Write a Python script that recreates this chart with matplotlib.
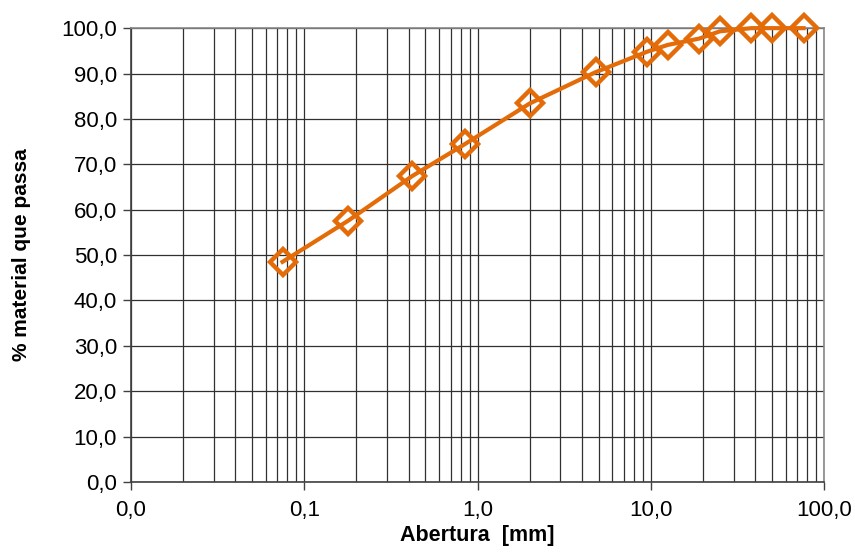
import numpy as np
import matplotlib.pyplot as plt
from matplotlib.ticker import FuncFormatter, LogLocator, MultipleLocator

plt.rcParams['font.family'] = ['Liberation Sans', 'DejaVu Sans']

# sieve openings [mm] and % passing
abertura = [0.075, 0.18, 0.42, 0.85, 2.0, 4.8, 9.5, 12.5, 19.0, 25.0, 38.0, 50.0, 76.0]
passante = [48.5, 57.6, 67.4, 74.5, 83.4, 90.3, 94.8, 96.3, 97.7, 99.3, 100.0, 100.0, 100.0]

x_limits = [0.01, 100]
y_limits = [0, 100]

fig = plt.figure(figsize=(8.55, 5.52), dpi=100)
ax = fig.add_axes([0.153, 0.127, 0.811, 0.822])

ax.plot(abertura, passante, color='#E36C09', lw=3.0, marker='D', ms=13,
        mfc='none', mec='#E36C09', mew=3.2, zorder=5, clip_on=False)

ax.set_xscale('log')
ax.set_xlim(x_limits)
ax.set_ylim(y_limits)

ax.xaxis.set_major_locator(LogLocator(base=10, numticks=10))
ax.xaxis.set_minor_locator(LogLocator(base=10, subs=np.arange(2, 10), numticks=20))
ax.yaxis.set_major_locator(MultipleLocator(10))

fmt = FuncFormatter(lambda v, pos: f"{v:.1f}".replace('.', ','))
ax.xaxis.set_major_formatter(fmt)
ax.yaxis.set_major_formatter(fmt)
ax.xaxis.set_minor_formatter(FuncFormatter(lambda v, pos: ''))

ax.grid(True, which='major', axis='both', color='#303030', lw=0.9)
ax.grid(True, which='minor', axis='x', color='#303030', lw=0.9)
ax.set_axisbelow(True)

ax.tick_params(axis='both', which='major', direction='out', length=6, width=1,
               color='#404040', labelsize=16, pad=4)
ax.tick_params(axis='x', which='minor', length=0)
ax.tick_params(axis='x', which='major', pad=7)

for s in ax.spines.values():
    s.set_color('#888888')
    s.set_linewidth(1.2)
ax.spines['left'].set_color('#404040')
ax.spines['bottom'].set_color('#404040')

ax.set_xlabel('Abertura  [mm]', fontsize=15.5, fontweight='bold', labelpad=3)
ax.set_ylabel('% material que passa', fontsize=15, fontweight='bold', labelpad=22)

fig.savefig('out.png', dpi=100)
